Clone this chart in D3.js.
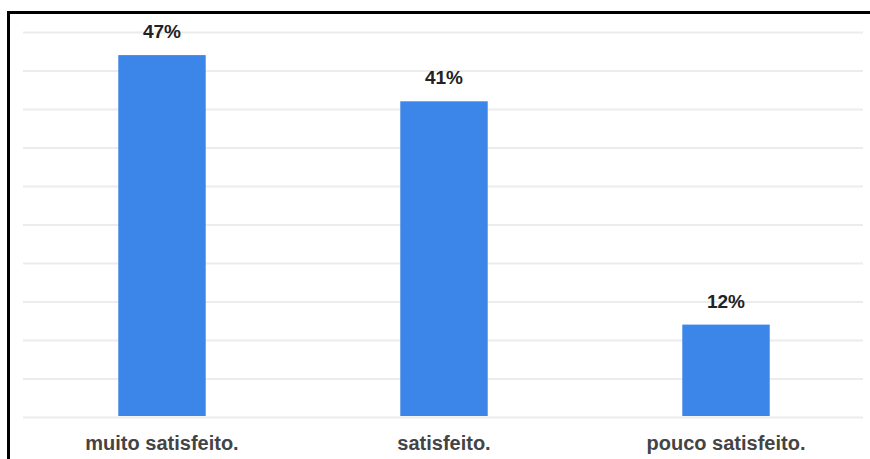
<!DOCTYPE html>
<html>
<head>
<meta charset="utf-8">
<script src="https://cdn.jsdelivr.net/npm/d3@7"></script>
<style>
  html, body { margin: 0; padding: 0; background: #fff; }
  svg { display: block; }
  .sat-grid line { stroke: #ececec; stroke-width: 2; }
  .sat-grid path { display: none; }
  .sat-value { font-family: 'Liberation Sans', Arial, sans-serif; font-weight: bold; font-size: 19px; fill: #222; }
  .sat-cat { font-family: 'Liberation Sans', Arial, sans-serif; font-weight: bold; font-size: 20px; fill: #444; }
</style>
</head>
<body>
<svg id="chart"></svg>
<script>
const categories = ['muito satisfeito.', 'satisfeito.', 'pouco satisfeito.'];
const values = [47, 41, 12];
const gridTicks = [0, 5, 10, 15, 20, 25, 30, 35, 40, 45, 50];

const width = 870;
const height = 459;

const svg = d3.select('#chart')
  .attr('width', width)
  .attr('height', height);

// scales
const x = d3.scaleBand()
  .domain(categories)
  .range([21, 867])
  .paddingInner(0.69)
  .paddingOuter(0.345);

const y = d3.scaleLinear()
  .domain([0, 50])
  .range([417, 32]);

// frame (cropped at right / bottom like the screenshot)
svg.append('path')
  .attr('d', `M8.5,${height + 5}V12.5H${width + 5}`)
  .attr('fill', 'none')
  .attr('stroke', '#000')
  .attr('stroke-width', 3);

// horizontal gridlines
svg.append('g')
  .attr('class', 'sat-grid')
  .attr('transform', 'translate(23,0)')
  .call(d3.axisLeft(y).tickValues(gridTicks).tickSize(-840).tickFormat(''))
  .call((g) => g.selectAll('line').filter((d) => d === 0).attr('stroke', '#c8c8c8'));

// bars
svg.append('g')
  .selectAll('rect')
  .data(values)
  .enter()
  .append('rect')
  .attr('x', (d, i) => x(categories[i]))
  .attr('y', (d) => y(d))
  .attr('width', x.bandwidth())
  .attr('height', (d) => y(0) - y(d) - 1)
  .attr('fill', '#3b86e8');

// value labels
svg.append('g')
  .selectAll('text')
  .data(values)
  .enter()
  .append('text')
  .attr('class', 'sat-value')
  .attr('text-anchor', 'middle')
  .attr('x', (d, i) => x(categories[i]) + x.bandwidth() / 2)
  .attr('y', (d) => y(d) - 17)
  .text((d) => `${d}%`);

// category axis labels
svg.append('g')
  .selectAll('text')
  .data(categories)
  .enter()
  .append('text')
  .attr('class', 'sat-cat')
  .attr('text-anchor', 'middle')
  .attr('x', (d) => x(d) + x.bandwidth() / 2)
  .attr('y', 450)
  .text((d) => d);
</script>
</body>
</html>
